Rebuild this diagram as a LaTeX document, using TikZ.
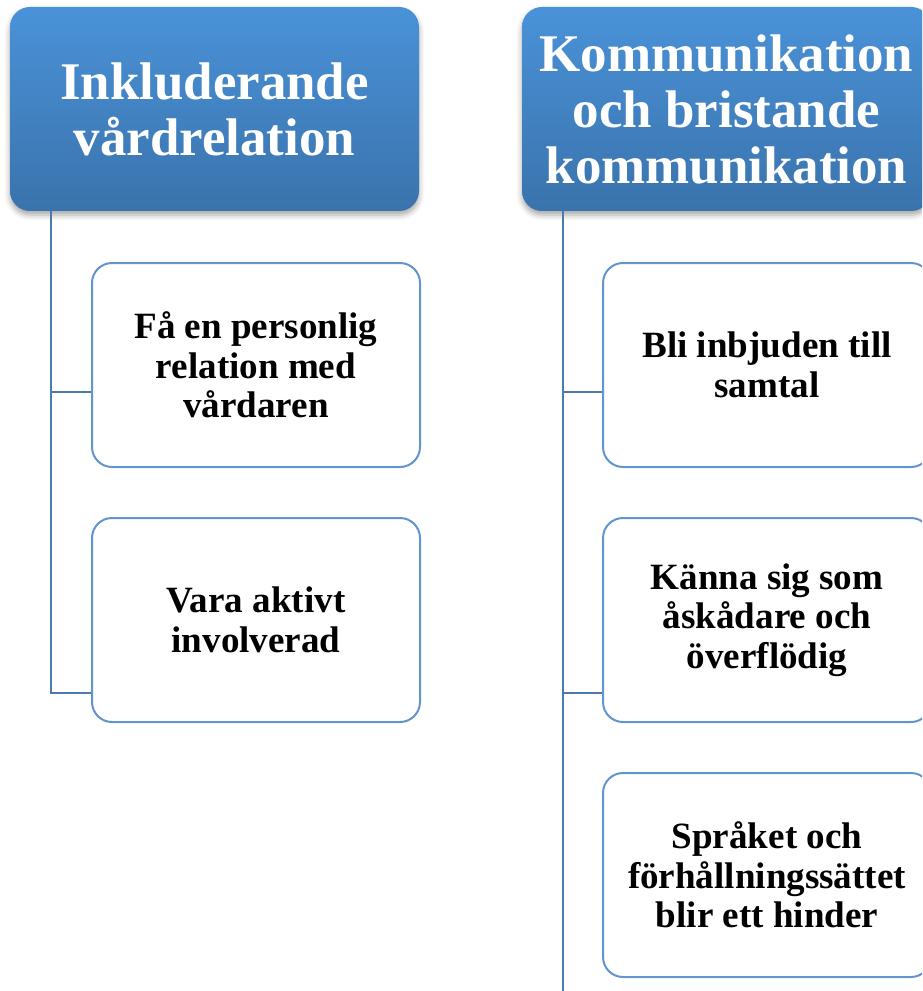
\documentclass[tikz,border=0pt]{standalone}
\usepackage{fontspec}
\setmainfont{Liberation Serif}
\usetikzlibrary{positioning,shadows.blur}
\definecolor{headtop}{RGB}{74,146,216}
\definecolor{headbot}{RGB}{58,115,172}
\definecolor{boxline}{RGB}{98,148,206}
\definecolor{linkline}{RGB}{76,122,172}
\tikzset{
  head/.style={rounded corners=15pt,top color=headtop,bottom color=headbot,
    minimum width=306.75pt,minimum height=153pt,text=white,align=center,
    font=\fontsize{39.7}{42}\selectfont\bfseries,
    blur shadow={shadow xshift=0pt,shadow yshift=-3pt,shadow blur radius=4pt,shadow opacity=35}},
  item/.style={rounded corners=15pt,draw=boxline,line width=1.5pt,fill=white,
    minimum width=246pt,minimum height=153pt,align=center,
    font=\fontsize{27.8}{29.6}\selectfont\bfseries},
  link/.style={draw=linkline,line width=1.5pt}
}
\begin{document}
\begin{tikzpicture}[x=0.75pt,y=-0.75pt]
\useasboundingbox (0,0) rectangle (922,991);
\clip (0,0) rectangle (922,991);
% headers
\node[head] (hvard) at (214.5,109) {Inkluderande\\vårdrelation};
\node[head] (hkomm) at (726.5,109) {Kommunikation\\och bristande\\kommunikation};
% sub items
\node[item] (vard1) at (256,365) {Få en personlig\\relation med\\vårdaren};
\node[item,below=36.75pt of vard1] (vard2) {Vara aktivt\\involverad};
\node[item] (komm1) at (767,365) {Bli inbjuden till\\samtal};
\node[item,below=36.75pt of komm1] (komm2) {Känna sig som\\åskådare och\\överflödig};
\node[item,below=36.75pt of komm2] (komm3) {Språket och\\förhållningssättet\\blir ett hinder};
% connectors
\coordinate (tvard) at ([xshift=30.75pt]hvard.south west);
\coordinate (tkomm) at ([xshift=30.75pt]hkomm.south west);
\coordinate (pvard1) at ([yshift=-20.25pt]vard1.west);
\coordinate (pvard2) at ([yshift=-54.75pt]vard2.west);
\coordinate (pkomm1) at ([yshift=-20.25pt]komm1.west);
\coordinate (pkomm2) at ([yshift=-54.75pt]komm2.west);
\coordinate (bottom) at (0,995);
\draw[link] (tvard) |- (pvard2);
\draw[link] (tvard |- pvard1) -- (pvard1);
\draw[link] (tkomm) -- (tkomm |- bottom);
\draw[link] (tkomm |- pkomm1) -- (pkomm1);
\draw[link] (tkomm |- pkomm2) -- (pkomm2);
\end{tikzpicture}
\end{document}
